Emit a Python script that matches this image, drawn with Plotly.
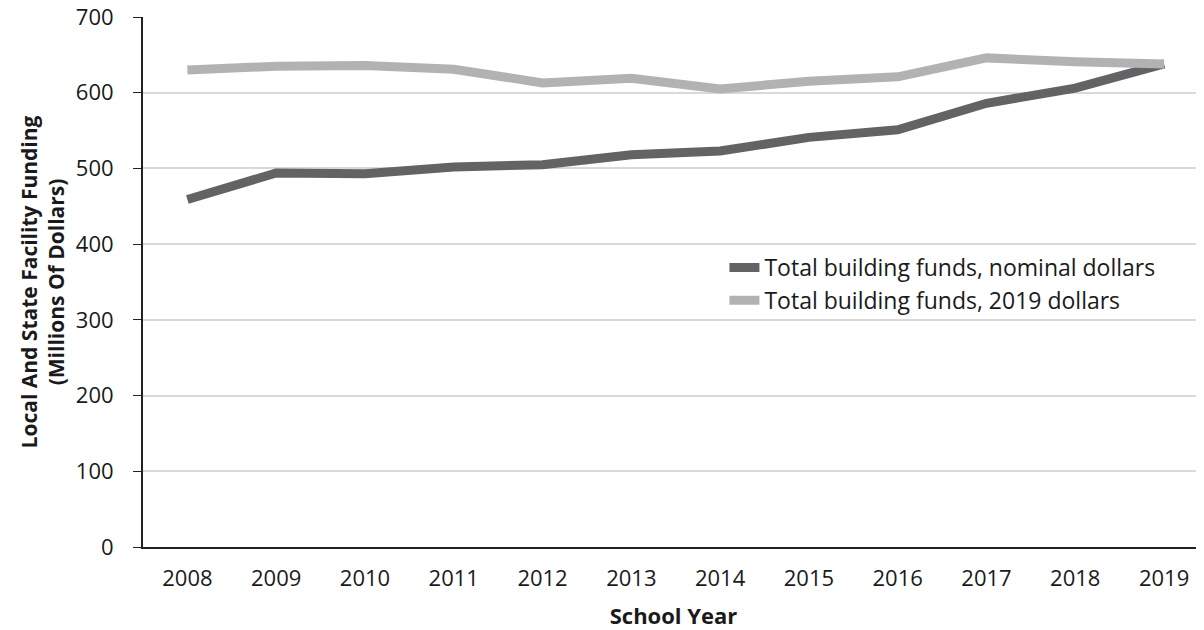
import plotly.graph_objects as go

# Dados (milhões de dólares)
anos = [2008, 2009, 2010, 2011, 2012, 2013, 2014, 2015, 2016, 2017, 2018, 2019]
nominal = [459, 494, 493, 502, 505, 518, 523, 541, 551, 586, 606, 638]
dolares_2019 = [630, 635, 636, 631, 613, 619, 605, 615, 621, 646, 641, 638]

fonte = "Open Sans, Noto Sans, sans-serif"

fig = go.Figure()

fig.add_trace(go.Scatter(
    x=anos, y=nominal, mode='lines',
    name='Total building funds, nominal dollars',
    line=dict(color='#636365', width=9)
))
fig.add_trace(go.Scatter(
    x=anos, y=dolares_2019, mode='lines',
    name='Total building funds, 2019 dollars',
    line=dict(color='#b2b2b5', width=9)
))

# a página tem 8px de margem no body, por isso o tamanho é 1196x622
fig.update_layout(
    width=1196, height=622,
    margin=dict(l=135, r=0, t=9, b=83),
    plot_bgcolor='white', paper_bgcolor='white',
    font=dict(family=fonte, size=22, color='#1a1a1a'),
    legend=dict(
        x=0.548, y=0.568, xanchor='left', yanchor='top',
        bgcolor='rgba(0,0,0,0)', font=dict(size=23),
        tracegroupgap=0
    ),
    xaxis=dict(
        range=[2007.5, 2019.45],
        tickmode='array', tickvals=anos,
        showgrid=False, zeroline=False, automargin=False,
        showline=True, linecolor='#222222', linewidth=2,
        ticks='', ticklabelstandoff=11, tickfont=dict(size=22),
        title=dict(text='<b>School Year</b>', font=dict(size=22), standoff=18)
    ),
    yaxis=dict(
        range=[0, 700], dtick=100,
        showgrid=True, gridcolor='#d9d9d9', gridwidth=2,
        zeroline=False, automargin=False,
        showline=True, linecolor='#222222', linewidth=2,
        ticks='outside', ticklen=8, tickcolor='#222222',
        ticklabelstandoff=15, ticklabeloverflow='allow',
        tickfont=dict(size=22),
        title=dict(text='<b>Local And State Facility Funding<br>(Millions Of Dollars)</b>',
                   font=dict(size=21), standoff=5)
    )
)

fig.write_html("out.html")
